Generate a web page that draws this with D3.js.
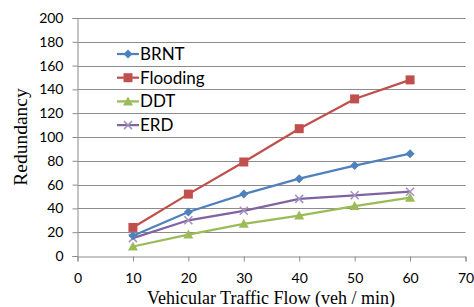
<!DOCTYPE html>
<html>
<head>
<meta charset="utf-8">
<script src="https://cdn.jsdelivr.net/npm/d3@7"></script>
<style>
  body { margin: 0; background: #fff; }
  svg { display: block; }
</style>
</head>
<body>
<div id="chart"></div>
<script>
var flows = [10, 20, 30, 40, 50, 60];
var brnt = [17, 37, 52, 65, 76, 86];
var flooding = [24, 52, 79, 107, 132, 148];
var ddt = [8, 18, 27, 34, 42, 49];
var erd = [15, 30, 38, 48, 51, 54];
var xTicks = [0, 10, 20, 30, 40, 50, 60, 70];
var yTicks = [0, 20, 40, 60, 80, 100, 120, 140, 160, 180, 200];

var series = [
  { name: "BRNT", values: brnt, color: "#4F81BD", marker: "diamond" },
  { name: "Flooding", values: flooding, color: "#C0504D", marker: "square" },
  { name: "DDT", values: ddt, color: "#9BBB59", marker: "triangle" },
  { name: "ERD", values: erd, color: "#8064A2", marker: "cross" }
];

var W = 474, H = 307;
var svg = d3.select("#chart").append("svg")
  .attr("width", W).attr("height", H);

var x = d3.scaleLinear().domain([0, 70]).range([77.5, 465.5]);
var y = d3.scaleLinear().domain([0, 200]).range([256, 18]);

var tickFont = "Lato, 'Open Sans', sans-serif";

// gridlines
svg.append("g").selectAll("line")
  .data(yTicks.filter(function(d) { return d > 0; }))
  .enter().append("line")
  .attr("x1", x(0)).attr("x2", x(70))
  .attr("y1", function(d) { return Math.round(y(d)) + 0.5; })
  .attr("y2", function(d) { return Math.round(y(d)) + 0.5; })
  .attr("stroke", "#8c8c8c").attr("stroke-width", 1);

// y axis
var yAxis = svg.append("g")
  .attr("transform", "translate(" + x(0) + ",0)")
  .call(d3.axisLeft(y).tickValues(yTicks).tickSize(5).tickPadding(9));
yAxis.select(".domain").attr("stroke", "#8c8c8c");
yAxis.selectAll(".tick line").attr("stroke", "#8c8c8c");
yAxis.selectAll("text")
  .style("font-family", tickFont).style("font-size", "14px").attr("fill", "#000");

// x axis
var xAxis = svg.append("g")
  .attr("transform", "translate(0," + (Math.round(y(0)) + 0.5) + ")")
  .call(d3.axisBottom(x).tickValues(xTicks).tickSize(5).tickPadding(12));
xAxis.select(".domain").attr("stroke", "#8c8c8c");
xAxis.selectAll(".tick line").attr("stroke", "#8c8c8c");
xAxis.selectAll("text")
  .style("font-family", tickFont).style("font-size", "14px").attr("fill", "#000");

// axis titles
svg.append("text")
  .attr("transform", "translate(27,137) rotate(-90)")
  .attr("text-anchor", "middle")
  .style("font-family", "'Liberation Serif', 'Times New Roman', serif")
  .style("font-size", "19.5px")
  .text("Redundancy");

svg.append("text")
  .attr("x", 271).attr("y", 304)
  .attr("text-anchor", "middle")
  .style("font-family", "'Liberation Serif', 'Times New Roman', serif")
  .style("font-size", "18px")
  .text("Vehicular Traffic Flow (veh / min)");

function drawMarker(g, type, color, cx, cy) {
  if (type === "diamond") {
    g.append("path")
      .attr("d", "M" + cx + "," + (cy - 4.5) + "L" + (cx + 4.5) + "," + cy +
        "L" + cx + "," + (cy + 4.5) + "L" + (cx - 4.5) + "," + cy + "Z")
      .attr("fill", color);
  } else if (type === "square") {
    g.append("rect")
      .attr("x", cx - 4.5).attr("y", cy - 4.5)
      .attr("width", 9).attr("height", 9)
      .attr("fill", color);
  } else if (type === "triangle") {
    g.append("path")
      .attr("d", "M" + cx + "," + (cy - 5) + "L" + (cx + 5) + "," + (cy + 4) +
        "L" + (cx - 5) + "," + (cy + 4) + "Z")
      .attr("fill", color);
  } else if (type === "cross") {
    g.append("path")
      .attr("d", "M" + (cx - 4) + "," + (cy - 4) + "L" + (cx + 4) + "," + (cy + 4) +
        "M" + (cx - 4) + "," + (cy + 4) + "L" + (cx + 4) + "," + (cy - 4))
      .attr("stroke", "#a390c0").attr("stroke-width", 1.5).attr("fill", "none");
  }
}

var line = d3.line()
  .x(function(d, i) { return x(flows[i]); })
  .y(function(d) { return y(d); });

// draw in reverse so BRNT sits on top like the original
series.slice().reverse().forEach(function(s) {
  var g = svg.append("g");
  g.append("path")
    .datum(s.values)
    .attr("d", line)
    .attr("fill", "none")
    .attr("stroke", s.color)
    .attr("stroke-width", 2.25);
  s.values.forEach(function(v, i) {
    drawMarker(g, s.marker, s.color, x(flows[i]), y(v));
  });
});

// legend
var legend = svg.append("g");
series.forEach(function(s, i) {
  var ly = 54 + i * 23.7;
  legend.append("line")
    .attr("x1", 117).attr("x2", 139)
    .attr("y1", ly).attr("y2", ly)
    .attr("stroke", s.color).attr("stroke-width", 2.25);
  drawMarker(legend, s.marker, s.color, 128, ly);
  legend.append("text")
    .attr("x", 140).attr("y", ly + 6)
    .style("font-family", tickFont)
    .style("font-size", "17px")
    .text(s.name);
});
</script>
</body>
</html>
